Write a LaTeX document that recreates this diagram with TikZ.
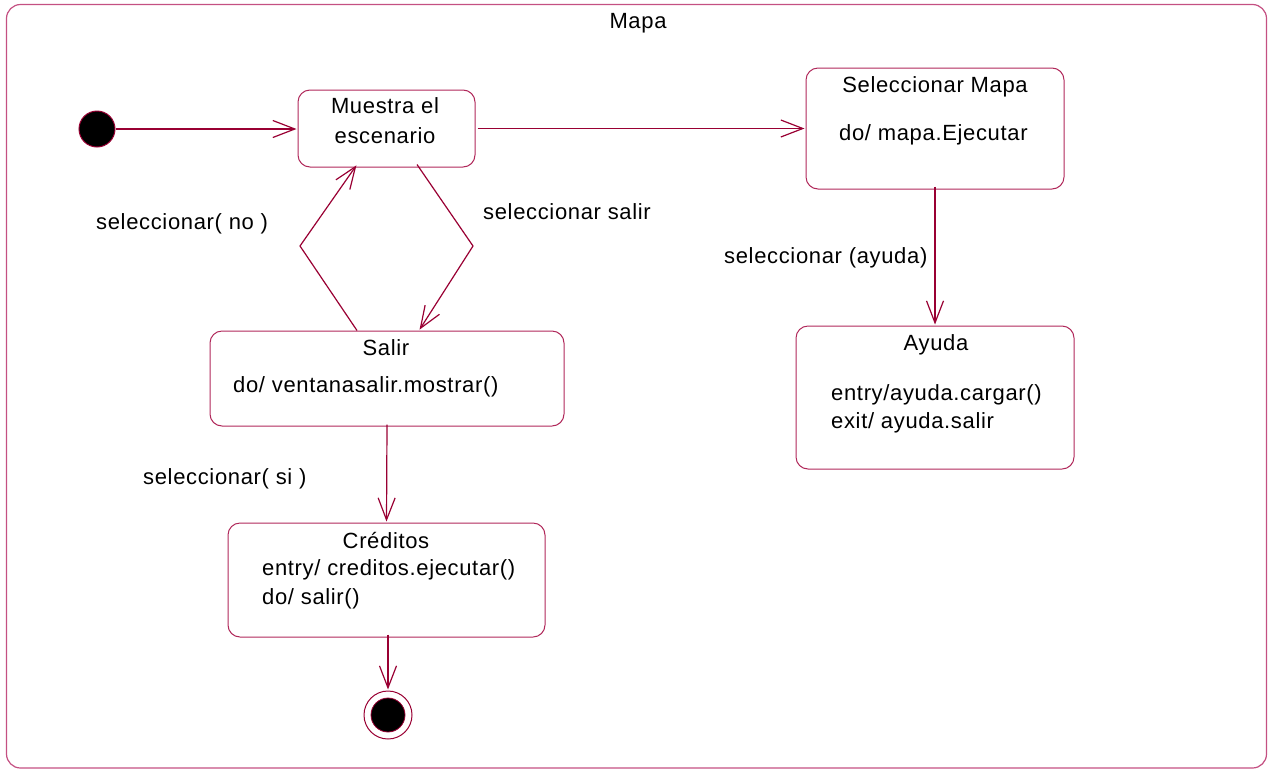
\documentclass[tikz,border=0pt]{standalone}
\usepackage{fontspec}
\setmainfont[LetterSpace=3]{Liberation Sans}
\usetikzlibrary{arrows.meta}
\definecolor{wine}{RGB}{153,0,51}
\definecolor{boxline}{RGB}{176,40,90}
\definecolor{frameline}{RGB}{196,80,130}
\tikzset{
  statebox/.style={draw=boxline, line width=1pt, rounded corners=12pt, inner sep=0pt},
  txt/.style={inner sep=0pt, font=\fontsize{22}{26}\selectfont, text=black},
  tr/.style={draw=wine, line width=1.2pt, -{Straight Barb[length=22pt,width=17pt,line width=1.2pt]}, shorten >=1pt},
}
\begin{document}
\begin{tikzpicture}[x=1pt,y=-1pt]
\useasboundingbox (0,0) rectangle (1268,769);
% outer frame
\draw[frameline, line width=1.2pt, rounded corners=14pt] (6.5,4.5) rectangle (1266.5,768);
\node[txt, anchor=base] (tmapa) at (638,28) {Mapa};

% initial and final pseudo-states
\node[circle, fill=black, draw=wine, line width=1pt, minimum size=36pt, inner sep=0pt] (ini) at (97,129) {};
\node[circle, draw=wine, line width=1pt, minimum size=48pt, inner sep=0pt] (fin) at (388,715) {};
\node[circle, fill=black, draw=wine, line width=0.8pt, minimum size=34pt, inner sep=0pt] (fincore) at (fin) {};

% states
\node[statebox, minimum width=177pt, minimum height=77pt] (mue) at (386.5,128.5) {};
\node[txt, anchor=base] (tmue1) at (385,113) {Muestra el};
\node[txt, anchor=base] (tmue2) at (385,143) {escenario};

\node[statebox, minimum width=258pt, minimum height=121pt] (sel) at (935,128.5) {};
\node[txt, anchor=base] (tsel1) at (935,92) {Seleccionar Mapa};
\node[txt, anchor=base west] (tsel2) at (839,140) {do/ mapa.Ejecutar};

\node[statebox, minimum width=278pt, minimum height=143pt] (ayu) at (935,397.5) {};
\node[txt, anchor=base] (tayu1) at (936,350) {Ayuda};
\node[txt, anchor=base west] (tayu2) at (831,400) {entry/ayuda.cargar()};
\node[txt, anchor=base west] (tayu3) at (831,428) {exit/ ayuda.salir};

\node[statebox, minimum width=354pt, minimum height=95pt] (sal) at (387,378.5) {};
\node[txt, anchor=base] (tsal1) at (386,355) {Salir};
\node[txt, anchor=base west] (tsal2) at (233,392) {do/ ventanasalir.mostrar()};

\node[statebox, minimum width=317pt, minimum height=114pt] (cre) at (386.5,580) {};
\node[txt, anchor=base] (tcre1) at (386,548) {Créditos};
\node[txt, anchor=base west] (tcre2) at (262,575) {entry/ creditos.ejecutar()};
\node[txt, anchor=base west] (tcre3) at (262,604) {do/ salir()};

% bend points of the two diagonal transitions
\coordinate (kr) at (473,246);
\coordinate (kl) at (300,246);

% transitions
\draw[tr] (ini.east) -- (ini.east -| mue.west);
\draw[tr] ([xshift=2pt]mue.east) -- (mue.east -| sel.west);
\draw[tr] ([yshift=3pt]sel.south) -- (ayu.north);
\draw[tr] ([xshift=30.5pt,yshift=3pt]mue.south) -- (kr) -- ([xshift=32pt]sal.north);
\draw[tr] ([xshift=-30pt]sal.north) -- (kl) -- ([xshift=-29.5pt,yshift=3pt]mue.south);
\draw[tr] ([yshift=2pt]sal.south) -- (cre.north);
\draw[tr] ([xshift=1.5pt,yshift=3pt]cre.south) -- (fin.north);

% transition labels
\node[txt, anchor=base west] (lsal) at (483,219) {seleccionar salir};
\node[txt, anchor=base west] (lno) at (96,229) {seleccionar( no )};
\node[txt, anchor=base west] (layu) at (724,263) {seleccionar (ayuda)};
\node[txt, anchor=base west] (lsi) at (143,484) {seleccionar( si )};
\end{tikzpicture}
\end{document}
